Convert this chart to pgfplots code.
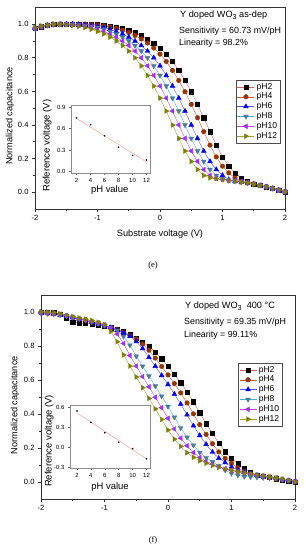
\documentclass[border=0pt]{standalone}
\usepackage{fontspec}
\setmainfont{Liberation Sans}
\newfontfamily\seriffont{Liberation Serif}
\usepackage{pgfplots}
\usepackage{pgfplotstable}
\pgfplotsset{compat=1.18}

\definecolor{cbrown}{HTML}{993300}
\definecolor{cblue}{HTML}{0000FF}
\definecolor{cteal}{HTML}{4A7A9A}
\definecolor{cviolet}{HTML}{A030FF}
\definecolor{colive}{HTML}{808000}
\definecolor{l2}{HTML}{E06060}
\definecolor{l4}{HTML}{D05030}
\definecolor{l6}{HTML}{5050FF}
\definecolor{l8}{HTML}{40B0D0}
\definecolor{l10}{HTML}{D040E0}
\definecolor{l12}{HTML}{A0A030}

\pgfplotstableread{
x p2 p4 p6 p8 p10 p12
-2.0 .975 .975 .975 .975 .975 .98
-1.9 .985 .985 .985 .985 .985 .99
-1.8 .993 .993 .993 .993 .993 .995
-1.7 .998 .998 .998 .998 .998 1.0
-1.6 1.0 1.0 1.0 1.0 1.0 .999
-1.5 1.0 1.0 1.0 1.0 .999 .997
-1.4 1.0 1.0 1.0 .999 .997 .992
-1.3 1.0 1.0 .999 .997 .992 .987
-1.2 1.0 1.0 .997 .992 .987 .98
-1.1 1.0 .998 .992 .987 .98 .97
-1.0 .998 .995 .987 .98 .97 .957
-0.9 .995 .99 .98 .97 .957 .942
-0.8 .99 .984 .97 .957 .942 .923
-0.7 .984 .975 .957 .942 .923 .90
-0.6 .975 .964 .942 .923 .90 .873
-0.5 .964 .95 .923 .90 .873 .84
-0.4 .95 .933 .90 .873 .84 .80
-0.3 .933 .912 .873 .84 .80 .752
-0.2 .912 .888 .84 .80 .752 .695
-0.1 .888 .858 .80 .752 .695 .632
0.0 .858 .822 .752 .695 .632 .56
0.1 .822 .778 .695 .632 .56 .483
0.2 .778 .725 .632 .56 .483 .40
0.3 .725 .665 .56 .483 .40 .32
0.4 .665 .598 .483 .40 .32 .245
0.5 .598 .523 .40 .32 .245 .183
0.6 .523 .443 .32 .245 .183 .135
0.7 .443 .36 .245 .183 .135 .10
0.8 .36 .28 .183 .135 .10 .085
0.9 .28 .21 .135 .10 .082 .08
1.0 .21 .155 .10 .078 .075 .075
1.1 .155 .115 .075 .07 .07 .07
1.2 .115 .085 .065 .065 .068 .065
1.3 .085 .065 .06 .06 .064 .06
1.4 .065 .055 .055 .055 .058 .055
1.5 .05 .048 .048 .048 .05 .048
1.6 .04 .04 .04 .04 .042 .04
1.7 .032 .032 .032 .032 .033 .032
1.8 .022 .022 .022 .022 .023 .022
1.9 .012 .012 .012 .012 .013 .012
2.0 .002 .002 .002 .002 .003 .002
}\tabE

\pgfplotstableread{
x p2 p4 p6 p8 p10 p12
-2.0 1.0 1.0 .998 .993 .995 1.0
-1.9 1.0 .997 .993 .99 .993 1.0
-1.8 .997 .992 .987 .987 .992 .997
-1.7 .985 .983 .98 .983 .988 .99
-1.6 .965 .975 .973 .978 .98 .98
-1.5 .94 .967 .967 .97 .97 .972
-1.4 .935 .958 .959 .96 .961 .965
-1.3 .933 .95 .95 .951 .954 .958
-1.2 .93 .94 .94 .942 .946 .95
-1.1 .925 .93 .929 .933 .936 .94
-1.0 .918 .919 .92 .922 .924 .925
-0.9 .908 .908 .909 .909 .908 .885
-0.8 .897 .896 .894 .891 .870 .825
-0.7 .884 .88 .877 .856 .815 .748
-0.6 .866 .862 .858 .805 .744 .682
-0.5 .846 .841 .826 .740 .682 .618
-0.4 .824 .812 .785 .681 .620 .555
-0.3 .797 .775 .733 .623 .560 .492
-0.2 .765 .729 .681 .565 .498 .43
-0.1 .725 .680 .627 .505 .437 .368
0.0 .68 .630 .574 .444 .375 .306
0.1 .632 .579 .517 .381 .312 .252
0.2 .584 .524 .458 .318 .258 .21
0.3 .53 .465 .395 .263 .213 .172
0.4 .472 .401 .331 .216 .173 .145
0.5 .408 .337 .274 .174 .144 .125
0.6 .343 .280 .222 .143 .122 .11
0.7 .285 .225 .176 .119 .105 .097
0.8 .228 .177 .140 .095 .090 .086
0.9 .178 .139 .114 .070 .079 .076
1.0 .138 .111 .089 .050 .069 .068
1.1 .108 .083 .070 .040 .061 .06
1.2 .078 .063 .057 .032 .053 .053
1.3 .056 .049 .047 .030 .046 .047
1.4 .042 .040 .040 .028 .040 .041
1.5 .033 .033 .033 .026 .034 .036
1.6 .026 .026 .026 .024 .030 .03
1.7 .019 .019 .020 .020 .025 .024
1.8 .012 .013 .014 .015 .016 .017
1.9 .006 .007 .008 .010 .010 .009
2.0 0 .002 .002 .003 .003 0
}\tabF

\pgfplotstableread{
ph v
2 0.75
4 0.655
6 0.50
8 0.34
10 0.226
12 0.162
}\insE

\pgfplotstableread{
ph v
2 0.54
4 0.37
6 0.215
8 0.07
10 -0.025
12 -0.175
}\insF

\pgfplotsset{
  mainax/.style={
    scale only axis, xmin=-2, xmax=2, ymin=-0.1, ymax=1.1,
    xtick={-2,-1,0,1,2}, ytick={0,0.2,0.4,0.6,0.8,1.0},
    minor x tick num=1, minor y tick num=1,
    tick align=outside, tick pos=left,
    axis line style={black!80, line width=0.6pt},
    every tick/.style={black!80, line width=0.6pt},
    major tick length=3bp, minor tick length=1.8bp,
    tick label style={font=\fontsize{7.6}{8}\selectfont},
    y tick label style={/pgf/number format/.cd, fixed, fixed zerofill, precision=1, /tikz/.cd},
    /pgf/number format/assume math mode=true,
    clip=false,
    label style={font=\fontsize{9.2}{10}\selectfont},
    legend cell align=left,
    legend style={draw=black!70, line width=0.5pt, font=\fontsize{8.6}{9}\selectfont, inner sep=1pt, row sep=-1.6pt, anchor=north west},
    every axis plot/.append style={line width=0.4pt},
  },
  insax/.style={
    scale only axis, axis background/.style={fill=white},
    tick align=outside, tick pos=left,
    xtick={2,4,6,8,10,12},
    axis line style={black!45, line width=0.5pt},
    every tick/.style={black!60, line width=0.4pt},
    major tick length=2bp,
    tick label style={font=\fontsize{6}{6.5}\selectfont},
    y tick label style={/pgf/number format/.cd, fixed, fixed zerofill, precision=1, /tikz/.cd},
    /pgf/number format/assume math mode=true,
    label style={font=\fontsize{9.5}{10}\selectfont},
  },
  s2/.style={draw=l2, mark=square*, mark size=2.1pt, mark options={draw=black, fill=black}},
  s4/.style={draw=l4, mark=*, mark size=2.3pt, mark options={draw=cbrown, fill=cbrown}},
  s6/.style={draw=l6, mark=triangle*, mark size=2.8pt, mark options={draw=cblue, fill=cblue}},
  s8/.style={draw=l8, mark=triangle*, mark size=2.8pt, mark options={draw=cteal, fill=cteal, rotate=180}},
  s10/.style={draw=l10, mark=triangle*, mark size=2.8pt, mark options={draw=cviolet, fill=cviolet, rotate=90}},
  s12/.style={draw=l12, mark=triangle*, mark size=2.8pt, mark options={draw=colive, fill=colive, rotate=-90}},
}

\begin{document}
\begin{tikzpicture}
\path[use as bounding box] (0,0) rectangle (306bp,550bp);

% ---------- panel (e) ----------
\begin{axis}[mainax, at={(35bp,341bp)}, anchor=south west, width=250bp, height=201.6bp,
  xlabel={Substrate voltage (V)}, ylabel={Normalized capacitance},
  xlabel style={at={(axis description cs:0.5,-0.124)}, anchor=center},
  ylabel style={at={(axis description cs:-0.1,0.461)}, anchor=center},
  legend style={at={(axis description cs:0.804,0.64)}}]
\addplot[s2] table[x=x, y=p2] {\tabE};
\addplot[s4] table[x=x, y=p4] {\tabE};
\addplot[s6] table[x=x, y=p6] {\tabE};
\addplot[s8] table[x=x, y=p8] {\tabE};
\addplot[s10] table[x=x, y=p10] {\tabE};
\addplot[s12] table[x=x, y=p12] {\tabE};
\legend{pH2,pH4,pH6,pH8,pH10,pH12}
\end{axis}

\begin{axis}[insax, at={(71bp,377bp)}, anchor=south west, width=79bp, height=68bp,
  xmin=1.2, xmax=12.5, ymin=-0.02, ymax=0.93, ytick={0,0.3,0.6,0.9},
  xlabel={pH value}, ylabel={Reference voltage (V)},
  xlabel style={at={(axis description cs:0.49,-0.25)}, anchor=center},
  ylabel style={at={(axis description cs:-0.30,0.40)}, anchor=center}]
\addplot[red!45, line width=0.4pt, no marks] coordinates {(2,0.742) (12,0.135)};
\addplot[only marks, mark=*, mark size=0.6pt, black] table[x=ph, y=v] {\insE};
\end{axis}

\node[anchor=west, inner sep=0, font=\fontsize{9.2}{10}\selectfont] at (180bp,535bp) {Y doped WO\raisebox{-2pt}{\fontsize{7.2}{7}\selectfont 3} as-dep};
\node[anchor=west, inner sep=0, font=\fontsize{8.9}{10}\selectfont] at (179bp,519bp) {Sensitivity = 60.73 mV/pH};
\node[anchor=west, inner sep=0, font=\fontsize{8.9}{10}\selectfont] at (179bp,507bp) {Linearity = 98.2\%};
\node[font=\seriffont\fontsize{8.5}{9}\selectfont] at (153bp,285bp) {(e)};

% ---------- panel (f) ----------
\begin{axis}[mainax, at={(41bp,51bp)}, anchor=south west, width=254bp, height=204bp,
  ylabel={Normalized capacitance},
  ylabel style={at={(axis description cs:-0.102,0.46)}, anchor=center},
  legend style={at={(axis description cs:0.776,0.667)}}]
\addplot[s2] table[x=x, y=p2] {\tabF};
\addplot[s4] table[x=x, y=p4] {\tabF};
\addplot[s6] table[x=x, y=p6] {\tabF};
\addplot[s8] table[x=x, y=p8] {\tabF};
\addplot[s10] table[x=x, y=p10] {\tabF};
\addplot[s12] table[x=x, y=p12] {\tabF};
\legend{pH2,pH4,pH6,pH8,pH10,pH12}
\end{axis}

\begin{axis}[insax, at={(70bp,82bp)}, anchor=south west, width=80bp, height=63bp,
  xmin=1, xmax=12.5, ymin=-0.315, ymax=0.63, ytick={-0.3,0,0.3,0.6},
  xlabel={pH value}, ylabel={Reference voltage (V)},
  xlabel style={at={(axis description cs:0.5,-0.30)}, anchor=center},
  ylabel style={at={(axis description cs:-0.26,0.43)}, anchor=center}]
\addplot[red!45, line width=0.4pt, no marks] coordinates {(2,0.513) (12,-0.181)};
\addplot[only marks, mark=*, mark size=0.6pt, black] table[x=ph, y=v] {\insF};
\end{axis}

\node[anchor=west, inner sep=0, font=\fontsize{9.2}{10}\selectfont] at (185bp,244bp) {Y doped WO\raisebox{-2pt}{\fontsize{7.2}{7}\selectfont 3}\ \ 400 °C};
\node[anchor=west, inner sep=0, font=\fontsize{8.9}{10}\selectfont] at (184bp,228bp) {Sensitivity = 69.35 mV/pH};
\node[anchor=west, inner sep=0, font=\fontsize{8.9}{10}\selectfont] at (184bp,215bp) {Linearity = 99.11\%};
\node[font=\seriffont\fontsize{8.5}{9}\selectfont] at (153bp,10bp) {(f)};
\end{tikzpicture}
\end{document}
